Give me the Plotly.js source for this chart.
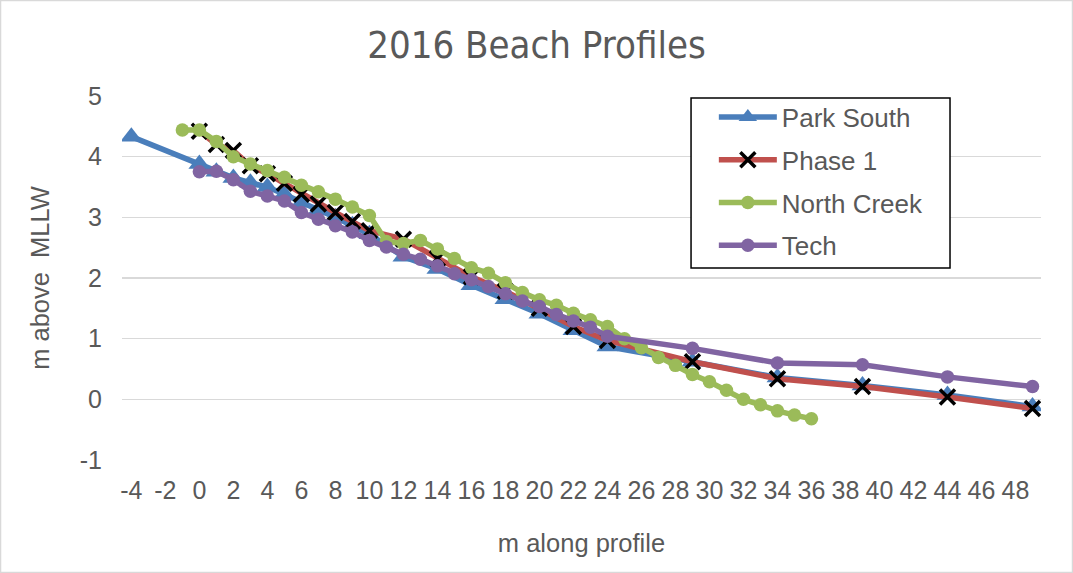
<!DOCTYPE html>
<html><head><meta charset="utf-8">
<script src="https://cdn.plot.ly/plotly-3.0.1.min.js"></script>
<style>html,body{margin:0;padding:0;background:#fff}#chart{width:1073px;height:573px}</style>
</head><body><div id="chart"></div>
<script>
const seriesNames = ["Park South", "Phase 1", "North Creek", "Tech"];

const parkSouthX = [-4, 0, 1, 2, 3, 4, 5, 6, 7, 8, 9, 10, 12, 14, 16, 18, 20, 22, 24, 29, 34, 39, 44, 49];
const parkSouthY = [4.33, 3.88, 3.75, 3.65, 3.57, 3.5, 3.38, 3.24, 3.12, 3.0, 2.87, 2.72, 2.35, 2.15, 1.88, 1.65, 1.41, 1.14, 0.87, 0.62, 0.36, 0.23, 0.07, -0.12];

const phase1X = [0, 1, 2, 3, 4, 5, 6, 7, 8, 9, 10, 12, 14, 16, 18, 20, 22, 24, 29, 34, 39, 44, 49];
const phase1Y = [4.42, 4.2, 4.1, 3.85, 3.72, 3.56, 3.38, 3.22, 3.08, 2.93, 2.78, 2.64, 2.32, 2.02, 1.78, 1.5, 1.2, 0.97, 0.62, 0.34, 0.21, 0.04, -0.15];

const northCreekX = [-1, 0, 1, 2, 3, 4, 5, 6, 7, 8, 9, 10, 11, 12, 13, 14, 15, 16, 17, 18, 19, 20, 21, 22, 23, 24, 25, 26, 27, 28, 29, 30, 31, 32, 33, 34, 35, 36];
const northCreekY = [4.44, 4.44, 4.25, 4.0, 3.88, 3.77, 3.66, 3.53, 3.42, 3.3, 3.17, 3.03, 2.6, 2.57, 2.62, 2.48, 2.32, 2.17, 2.08, 1.92, 1.76, 1.64, 1.55, 1.42, 1.31, 1.2, 1.0, 0.85, 0.69, 0.56, 0.41, 0.29, 0.15, 0.0, -0.09, -0.19, -0.26, -0.32];

const techX = [0, 1, 2, 3, 4, 5, 6, 7, 8, 9, 10, 11, 12, 13, 14, 15, 16, 17, 18, 19, 20, 21, 22, 23, 24, 29, 34, 39, 44, 49];
const techY = [3.75, 3.76, 3.62, 3.43, 3.35, 3.27, 3.08, 2.97, 2.86, 2.76, 2.62, 2.51, 2.39, 2.31, 2.2, 2.07, 1.97, 1.86, 1.74, 1.62, 1.53, 1.4, 1.29, 1.19, 1.04, 0.84, 0.6, 0.57, 0.37, 0.21];

const xTickVals = [-4, -2, 0, 2, 4, 6, 8, 10, 12, 14, 16, 18, 20, 22, 24, 26, 28, 30, 32, 34, 36, 38, 40, 42, 44, 46, 48];
const yTickVals = [-1, 0, 1, 2, 3, 4, 5];

const textColor = "#595959";
const fontFam = "Liberation Sans, Arial, sans-serif";

const traces = [
  {x: parkSouthX, y: parkSouthY, name: seriesNames[0], legendgroup: "a", mode: "lines+markers",
   line: {color: "#4a7ebb", width: 5.5},
   marker: {symbol: "triangle-up", size: 19, color: "#4a7ebb"}},
  {x: phase1X, y: phase1Y, name: seriesNames[1], legendgroup: "b", mode: "lines+markers",
   line: {color: "#c0504d", width: 5.5},
   marker: {symbol: "x-thin", size: 15, color: "#000000", line: {color: "#000000", width: 3.5}}},
  {x: northCreekX, y: northCreekY, name: seriesNames[2], legendgroup: "c", mode: "lines+markers",
   line: {color: "#9bbb59", width: 5.5},
   marker: {symbol: "circle", size: 13.5, color: "#9bbb59"}},
  {x: techX, y: techY, name: seriesNames[3], legendgroup: "d", mode: "lines+markers",
   line: {color: "#8064a2", width: 5.5},
   marker: {symbol: "circle", size: 13.5, color: "#8064a2"}}
];

const layout = {
  width: 1073, height: 573,
  margin: {l: 122, r: 32, t: 96, b: 113},
  paper_bgcolor: "#ffffff", plot_bgcolor: "#ffffff",
  font: {family: fontFam, color: textColor, size: 25},
  title: {text: "2016 Beach Profiles", x: 0.5, xref: "container", y: 1 - 45/573, yref: "container",
          xanchor: "center", yanchor: "middle",
          font: {family: "Liberation Sans Narrow, DejaVu Sans Condensed, Liberation Sans, sans-serif", size: 38, color: textColor}},
  xaxis: {range: [-4.55, 49.5], tickvals: xTickVals, ticktext: xTickVals.map(String),
          showgrid: false, zeroline: false, showline: false,
          ticks: "", tickfont: {size: 25, color: textColor}, ticklabelstandoff: 13,
          title: {text: "m along profile", font: {size: 25.5, color: textColor}, standoff: 31}},
  yaxis: {range: [-1, 5], tickvals: yTickVals, ticktext: yTickVals.map(String),
          showgrid: true, gridcolor: "#d9d9d9", gridwidth: 1.5,
          zeroline: false, showline: false, ticks: "", tickfont: {size: 25, color: textColor}, ticklabelstandoff: 19,
          title: {text: "m above  MLLW", font: {size: 25.5, color: textColor}, standoff: 22}},
  showlegend: true,
  legend: {x: 0.644, y: 1.0069, xanchor: "left", yanchor: "top", bgcolor: "rgba(0,0,0,0)",
           borderwidth: 0, tracegroupgap: 6, itemwidth: 58,
           font: {size: 26, color: textColor}},
  shapes: [
    {type: "rect", xref: "paper", yref: "paper", x0: -0.1322, x1: 1.0343, y0: -0.309, y1: 1.2624,
     line: {color: "#d9d9d9", width: 1.5}, fillcolor: "rgba(0,0,0,0)", layer: "below"},
    {type: "rect", xref: "paper", yref: "paper", x0: 0.6192, x1: 0.901, y0: 0.5275, y1: 0.9945,
     line: {color: "#000000", width: 1.5}, fillcolor: "#ffffff", layer: "above"}
  ]
};

Plotly.newPlot("chart", traces, layout, {displayModeBar: false, staticPlot: true});
</script>
</body></html>
